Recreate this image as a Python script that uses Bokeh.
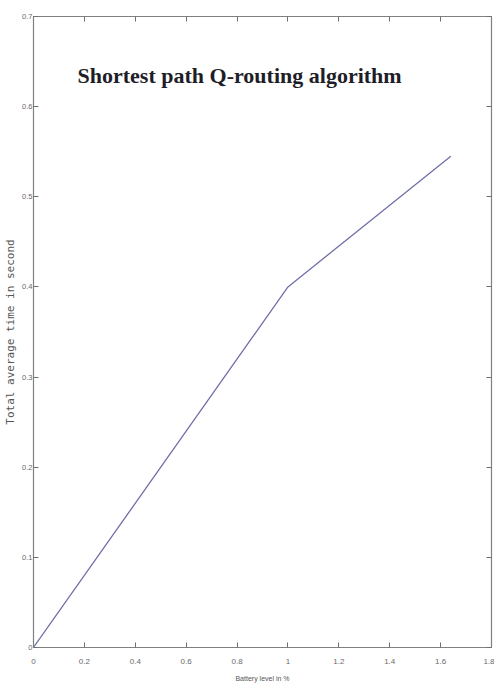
from bokeh.plotting import figure
from bokeh.models import LinearAxis, FixedTicker, CustomJSTickFormatter, Label, Range1d
from bokeh.embed import file_html
from bokeh.resources import INLINE

# Data
battery_level = [0.0, 1.0, 1.64]
avg_time = [0.0, 0.40, 0.545]

x_ticks = [0, 0.2, 0.4, 0.6, 0.8, 1.0, 1.2, 1.4, 1.6, 1.8]
y_ticks = [0, 0.1, 0.2, 0.3, 0.4, 0.5, 0.6, 0.7]

title_text = "Shortest path Q-routing algorithm"
x_label = "Battery level in %"
y_label = "Total average time in second"

axis_col = "#808080"
label_col = "#6a6a6a"

p = figure(width=494, height=690, output_backend="svg", toolbar_location=None,
           x_range=Range1d(0, 1.8), y_range=Range1d(0, 0.7),
           min_border_left=33, min_border_right=3, min_border_top=16, min_border_bottom=43,
           x_axis_label=x_label, y_axis_label=y_label)
p.grid.visible = False
p.outline_line_color = None
p.background_fill_color = "white"

fmt = CustomJSTickFormatter(code="return tick.toFixed(1).replace(/\\.0$/, '');")
blank = CustomJSTickFormatter(code="return '';")

def style(ax):
    ax.axis_line_color = axis_col
    ax.axis_line_width = 1.2
    ax.major_tick_line_color = "#707070"
    ax.major_tick_in = 5
    ax.major_tick_out = 0
    ax.minor_tick_line_color = None
    ax.major_label_text_font = "Liberation Sans"
    ax.major_label_text_font_size = "8px"
    ax.major_label_text_color = label_col
    ax.major_label_standoff = 4

style(p.xaxis[0]); style(p.yaxis[0])
p.xaxis[0].ticker = FixedTicker(ticks=x_ticks)
p.yaxis[0].ticker = FixedTicker(ticks=y_ticks)
p.xaxis[0].formatter = fmt
p.yaxis[0].formatter = fmt
p.yaxis[0].major_label_standoff = 1
p.yaxis[0].major_label_text_font_size = "7.5px"
p.xaxis[0].major_label_standoff = 11
p.xaxis[0].axis_label_text_font = "Liberation Sans"
p.xaxis[0].axis_label_text_font_size = "7px"
p.xaxis[0].axis_label_text_font_style = "normal"
p.xaxis[0].axis_label_text_color = "#555555"
p.xaxis[0].axis_label_standoff = 8
p.yaxis[0].axis_label_text_font = "DejaVu Sans Mono"
p.yaxis[0].axis_label_text_font_size = "11px"
p.yaxis[0].axis_label_text_font_style = "normal"
p.yaxis[0].axis_label_text_color = "#555555"
p.yaxis[0].axis_label_standoff = 2

top = LinearAxis(ticker=FixedTicker(ticks=x_ticks), formatter=blank)
right = LinearAxis(ticker=FixedTicker(ticks=y_ticks), formatter=blank)
style(top); style(right)
top.major_label_text_font_size = "1px"; top.major_label_standoff = 0
right.major_label_text_font_size = "1px"; right.major_label_standoff = 0
p.add_layout(top, "above")
p.add_layout(right, "right")

p.line(battery_level, avg_time, line_color="#7070a8", line_width=1.3)

p.add_layout(Label(x=0.81, y=0.635, text=title_text, text_align="center",
                   text_baseline="middle", text_font="Liberation Serif",
                   text_font_style="bold", text_font_size="22px", text_color="#1e1e28"))

open("out.html", "w").write(file_html(p, INLINE))
